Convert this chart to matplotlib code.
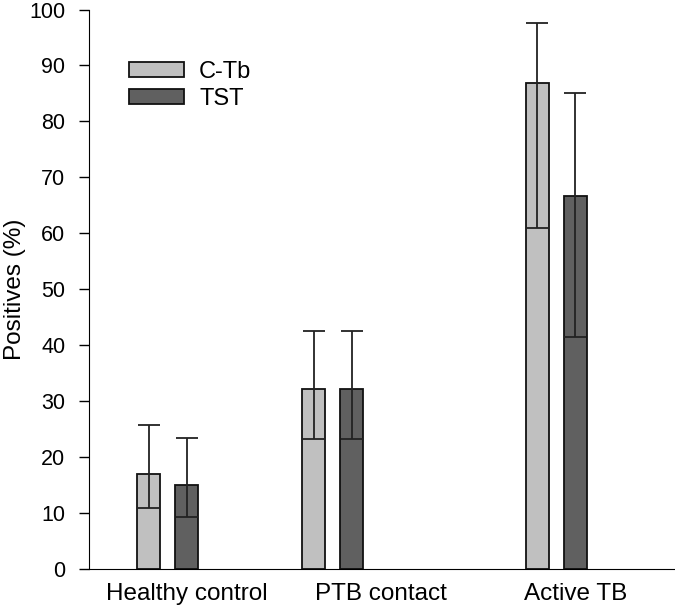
import numpy as np
import matplotlib.pyplot as plt

plt.rcParams['font.family'] = ['Liberation Sans', 'DejaVu Sans']

groups = ["Healthy control", "PTB contact", "Active TB"]
ctb = [17.0, 32.2, 86.8]
ctb_lo = [10.9, 23.3, 61.0]
ctb_hi = [25.7, 42.6, 97.5]
tst = [15.0, 32.2, 66.7]
tst_lo = [9.3, 23.3, 41.5]
tst_hi = [23.4, 42.6, 85.0]

# layout (axis units)
centers = np.array([78.5, 243.5, 467.0])
label_pos = [97.5, 292, 487]
off = 19
width = 23

fig = plt.figure(figsize=(6.75, 6.09), dpi=100)
ax = fig.add_axes([0.132, 0.0657, 0.868, 0.9187])

ctb_err = [np.array(ctb) - np.array(ctb_lo), np.array(ctb_hi) - np.array(ctb)]
tst_err = [np.array(tst) - np.array(tst_lo), np.array(tst_hi) - np.array(tst)]
ekw = dict(ecolor="#222222", elinewidth=1.3, capsize=8, capthick=1.3)
ax.bar(centers - off, ctb, width, color="#c0c0c0", edgecolor="#111111",
       linewidth=1.3, yerr=ctb_err, error_kw=ekw, label="C-Tb")
ax.bar(centers + off, tst, width, color="#606060", edgecolor="#111111",
       linewidth=1.3, yerr=tst_err, error_kw=ekw, label="TST")

ax.set_xlim(0, 586)
ax.set_ylim(0, 100)
ax.set_yticks(np.arange(0, 101, 10))
ax.set_xticks(label_pos)
ax.set_xticklabels(groups)
ax.tick_params(axis="x", length=0, labelsize=17.5, pad=10)
ax.tick_params(axis="y", direction="out", length=7, width=1, labelsize=15.5, pad=10)
ax.spines["top"].set_visible(False)
ax.spines["right"].set_visible(False)
ax.set_ylabel("Positives (%)", fontsize=17.5)
ax.yaxis.set_label_coords(-0.108, 0.5)

ax.legend(loc="upper left", bbox_to_anchor=(0.032, 0.946), frameon=False,
          fontsize=17, handlelength=2.33, handleheight=0.6, labelspacing=0.2,
          handletextpad=0.64)

fig.savefig("out.png", dpi=100)
